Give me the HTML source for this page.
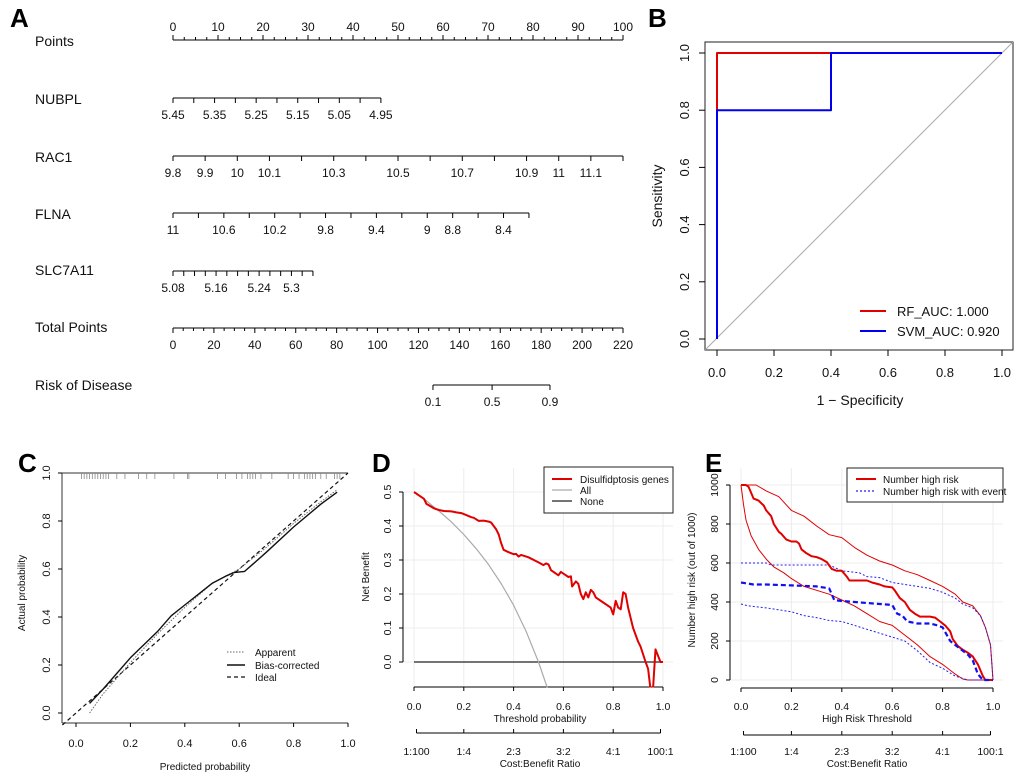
<!DOCTYPE html>
<html><head><meta charset="utf-8"><style>
html,body{margin:0;padding:0;background:#fff;}
svg{display:block;font-family:"Liberation Sans",Arial,sans-serif;}
</style></head><body>
<svg id="fig" width="1020" height="778" viewBox="0 0 1020 778" xmlns="http://www.w3.org/2000/svg"></svg>
<script>
// ---------- Panel A: nomogram data ----------
const nomoVars = ['NUBPL','RAC1','FLNA','SLC7A11'];
const nubplTicks = [5.45,5.40,5.35,5.30,5.25,5.20,5.15,5.10,5.05,5.00,4.95];
const nubplLabels = ['5.45','','5.35','','5.25','','5.15','','5.05','','4.95'];
const rac1Ticks = [9.8,9.9,10,10.1,10.2,10.3,10.4,10.5,10.6,10.7,10.8,10.9,11,11.1,11.2];
const rac1Labels = ['9.8','9.9','10','10.1','','10.3','','10.5','','10.7','','10.9','11','11.1',''];
const flnaTicks = [11,10.8,10.6,10.4,10.2,10,9.8,9.6,9.4,9.2,9,8.8,8.6,8.4,8.2];
const flnaLabels = ['11','','10.6','','10.2','','9.8','','9.4','','9','8.8','','8.4',''];
const slcTicks = [5.08,5.10,5.12,5.14,5.16,5.18,5.20,5.22,5.24,5.26,5.28,5.30,5.32,5.34];
const slcLabels = ['5.08','','','','5.16','','','','5.24','','','5.3','',''];
const varMaxPoints = [46.2, 100, 79.1, 31.1];
const pointsTicks = [0,10,20,30,40,50,60,70,80,90,100];
const totalTicks = [0,20,40,60,80,100,120,140,160,180,200,220];
const riskLabels = ['0.1','0.5','0.9'];
const riskTotals = [127.1, 156.0, 184.3];
// ---------- Panel B: ROC ----------
const rfFpr = [0,0,1];
const rfTpr = [0,1,1];
const svmFpr = [0,0,0.4,0.4,1];
const svmTpr = [0,0.8,0.8,1,1];
const rocTicks = [0,0.2,0.4,0.6,0.8,1.0];
// ---------- Panel C: calibration ----------
const calApparentX = [0.05,0.1,0.2,0.3,0.4,0.5,0.6,0.7,0.8,0.9,0.96];
const calApparentY = [0.0,0.08,0.21,0.33,0.44,0.54,0.60,0.69,0.79,0.88,0.93];
const calBiasX = [0.05,0.1,0.2,0.3,0.35,0.4,0.5,0.55,0.58,0.62,0.65,0.7,0.8,0.9,0.96];
const calBiasY = [0.04,0.1,0.23,0.34,0.405,0.45,0.54,0.57,0.585,0.59,0.62,0.67,0.775,0.87,0.92];
const calRug = [0.02,0.03,0.04,0.05,0.06,0.07,0.08,0.09,0.1,0.11,0.12,0.15,0.18,0.23,0.26,0.29,0.36,0.41,0.415,0.52,0.55,0.59,0.61,0.63,0.64,0.65,0.66,0.68,0.72,0.78,0.8,0.82,0.84,0.85,0.86,0.87,0.88,0.9,0.92,0.95,0.96,0.97];
const calTicks = [0,0.2,0.4,0.6,0.8,1.0];
// ---------- Panel D: DCA ----------
const dcaT = [0,0.02,0.04,0.05,0.08,0.1,0.12,0.15,0.17,0.19,0.21,0.23,0.24,0.26,0.28,0.3,0.31,0.32,0.33,0.34,0.35,0.36,0.38,0.4,0.41,0.42,0.43,0.46,0.5,0.52,0.53,0.54,0.55,0.57,0.58,0.59,0.61,0.62,0.63,0.635,0.65,0.66,0.67,0.68,0.69,0.7,0.71,0.72,0.73,0.76,0.79,0.8,0.81,0.82,0.83,0.84,0.85,0.86,0.88,0.9,0.91,0.93,0.94,0.95,0.96,0.97,0.99,1.0];
const dcaNB = [0.5,0.49,0.48,0.465,0.452,0.447,0.444,0.443,0.44,0.438,0.432,0.426,0.424,0.415,0.416,0.413,0.41,0.40,0.39,0.375,0.35,0.33,0.323,0.317,0.318,0.31,0.315,0.308,0.293,0.285,0.29,0.287,0.27,0.26,0.255,0.265,0.255,0.25,0.252,0.222,0.237,0.23,0.2,0.185,0.205,0.19,0.212,0.205,0.19,0.175,0.16,0.14,0.18,0.16,0.155,0.205,0.2,0.16,0.10,0.06,0.045,0.0,-0.02,-0.08,-0.08,0.037,0.0,0.0];
const allT = [0,0.05,0.1,0.15,0.2,0.25,0.3,0.35,0.4,0.45,0.5,0.535];
const allNB = [0.5,0.474,0.444,0.412,0.375,0.333,0.286,0.231,0.167,0.091,0.0,-0.075];
const dcaYTicks = [0,0.1,0.2,0.3,0.4,0.5];
const xTicks01 = [0,0.2,0.4,0.6,0.8,1.0];
const cbLabels = ['1:100','1:4','2:3','3:2','4:1','100:1'];
const cbPos = [0.01,0.2,0.4,0.6,0.8,0.99];
// ---------- Panel E: clinical impact ----------
const ciHighX = [0,0.02,0.03,0.05,0.07,0.09,0.1,0.12,0.13,0.15,0.16,0.18,0.2,0.22,0.23,0.24,0.26,0.28,0.3,0.32,0.34,0.36,0.38,0.4,0.42,0.43,0.46,0.5,0.52,0.55,0.57,0.6,0.61,0.63,0.65,0.67,0.69,0.71,0.75,0.77,0.79,0.81,0.83,0.84,0.86,0.88,0.9,0.92,0.94,0.96,0.97,1.0];
const ciHighY = [1000,1000,990,930,920,895,870,840,800,760,750,720,710,710,700,670,650,635,630,620,605,570,560,560,530,510,510,510,500,490,480,475,460,420,400,360,340,325,325,320,300,280,250,210,175,155,140,120,80,20,0,0];
const ciHighUpX = [0,0.06,0.1,0.15,0.2,0.25,0.3,0.35,0.4,0.45,0.5,0.55,0.6,0.65,0.7,0.75,0.8,0.85,0.88,0.92,0.95,0.97,0.99,1.0];
const ciHighUpY = [1000,1000,970,940,870,840,790,745,730,680,640,610,590,560,540,510,480,440,400,380,330,270,180,0];
const ciHighLoX = [0,0.01,0.02,0.04,0.07,0.1,0.13,0.17,0.2,0.25,0.3,0.35,0.4,0.45,0.5,0.55,0.6,0.65,0.7,0.75,0.8,0.85,0.88,0.9,1.0];
const ciHighLoY = [1000,900,820,740,670,620,580,550,520,480,460,440,410,380,340,300,280,230,180,120,80,30,5,0,0];
const ciEvX = [0,0.05,0.1,0.2,0.3,0.35,0.37,0.4,0.45,0.5,0.55,0.6,0.62,0.64,0.66,0.7,0.75,0.78,0.8,0.83,0.86,0.88,0.9,0.92,0.94,0.96,1.0];
const ciEvY = [500,490,490,485,480,470,410,405,400,395,390,385,340,330,300,290,290,280,270,200,170,150,130,100,30,0,0];
const ciEvUpX = [0,0.1,0.12,0.35,0.4,0.47,0.5,0.55,0.6,0.7,0.75,0.8,0.85,0.88,0.92,0.95,0.97,0.99,1.0];
const ciEvUpY = [600,600,590,590,560,550,530,525,500,480,470,450,420,390,370,330,270,180,0];
const ciEvLoX = [0,0.03,0.1,0.15,0.2,0.25,0.3,0.35,0.4,0.45,0.5,0.55,0.6,0.65,0.7,0.75,0.8,0.85,0.9,1.0];
const ciEvLoY = [390,380,370,360,350,330,320,305,300,280,260,240,220,200,150,90,60,20,0,0];
const ciYTicks = [0,200,400,600,800,1000];

const svg = document.getElementById('fig');
const NS = 'http://www.w3.org/2000/svg';
function add(tag, attrs, name, parent){
  const el = document.createElementNS(NS, tag);
  for (const k in attrs) el.setAttribute(k, attrs[k]);
  
  
  (parent||svg).appendChild(el);
  return el;
}
function ln(x1,y1,x2,y2,name,stroke,sw,dash){
  const a={x1:x1,y1:y1,x2:x2,y2:y2,stroke:stroke||'#000','stroke-width':sw||1};
  if(dash) a['stroke-dasharray']=dash;
  return add('line',a,name);
}
function tx(x,y,s,name,size,anchor,rot,weight,fill){
  const a={x:x,y:y,'font-size':size||12,'text-anchor':anchor||'middle',fill:fill||'#111'};
  if(rot) a.transform='rotate(-90 '+x+' '+y+')';
  if(weight) a['font-weight']=weight;
  const t=add('text',a,name); t.textContent=s; return t;
}
function pl(xs,ys,fx,fy,name,stroke,sw,dash,clip){
  const pts=xs.map((v,i)=>fx(v).toFixed(1)+','+fy(ys[i]).toFixed(1)).join(' ');
  const a={points:pts,fill:'none',stroke:stroke,'stroke-width':sw,'stroke-linejoin':'round'};
  if(dash) a['stroke-dasharray']=dash;
  if(clip) a['clip-path']='url(#'+clip+')';
  return add('polyline',a,name);
}
const defs = add('defs',{},'defs');
function clipRect(id,x,y,w,h){const c=add('clipPath',{id:id},'clip-'+id,defs);add('rect',{x:x,y:y,width:w,height:h},'clip-rect',c);}

// ================= Panel A =================
tx(10,27,'A','panel-label-a',26,'start',false,'bold','#000');
const PX = p => 173 + p*4.5;
const TX = t => 173 + t*450/220;
const rowY = [98,156,213,271];
const rowLab = [['Points',41],['NUBPL',99],['RAC1',157],['FLNA',214],['SLC7A11',270],['Total Points',327],['Risk of Disease',385]];
rowLab.forEach(r=>tx(35,r[1]+5,r[0],'row-label-'+r[0].toLowerCase().replace(/ /g,'-'),14,'start'));
ln(PX(0),40,PX(100),40,'points-axis');
for(let p=0;p<=100;p+=2.5){ const maj=p%10===0; ln(PX(p),40,PX(p),maj?35:37,'points-tick'); }
pointsTicks.forEach(p=>tx(PX(p),31,String(p),'points-tick-label',12));
const varTicks=[nubplTicks,rac1Ticks,flnaTicks,slcTicks];
const varLabels=[nubplLabels,rac1Labels,flnaLabels,slcLabels];
nomoVars.forEach((v,i)=>{
  const tk=varTicks[i], lb=varLabels[i], y=rowY[i], n=tk.length;
  const first=tk[0], last=tk[n-1];
  const xp = val => PX((val-first)/(last-first)*varMaxPoints[i]);
  ln(xp(first),y,xp(last),y,v.toLowerCase()+'-axis');
  tk.forEach((t,j)=>{ ln(xp(t),y,xp(t),y+5,v.toLowerCase()+'-tick');
    if(lb[j]) tx(xp(t),y+21,lb[j],v.toLowerCase()+'-tick-label',12); });
});
ln(TX(0),328,TX(220),328,'total-points-axis');
for(let t=0;t<=220;t+=5){ ln(TX(t),328,TX(t),t%20===0?333:331,'total-points-tick'); }
totalTicks.forEach(t=>tx(TX(t),349,String(t),'total-points-tick-label',12));
ln(TX(riskTotals[0]),385,TX(riskTotals[riskTotals.length-1]),385,'risk-axis');
riskLabels.forEach((l,i)=>{ ln(TX(riskTotals[i]),385,TX(riskTotals[i]),390,'risk-tick'); tx(TX(riskTotals[i]),406,l,'risk-tick-label',12); });

// ================= Panel B =================
tx(648,27,'B','panel-label-b',26,'start',false,'bold','#000');
const bx = v => 717 + v*285, by = v => 339 - v*286;
add('rect',{x:705,y:42,width:308,height:308,fill:'none',stroke:'#222','stroke-width':1},'roc-plot-box');
clipRect('cb',705,42,308,308);
ln(705,350,1013,42,'roc-diagonal','#aaa',1).setAttribute('clip-path','url(#cb)');
rocTicks.forEach(t=>{ ln(bx(t),350,bx(t),356,'roc-x-tick'); tx(bx(t),377,t.toFixed(1),'roc-x-tick-label',13);
  ln(699,by(t),705,by(t),'roc-y-tick'); tx(689,by(t),t.toFixed(1),'roc-y-tick-label',13,'middle',true); });
tx(860,405,'1 \u2212 Specificity','roc-x-title',14);
tx(662,196,'Sensitivity','roc-y-title',14,'middle',true);
pl(rfFpr,rfTpr,bx,by,'rf-roc-curve','#e00000',2);
pl(svmFpr,svmTpr,bx,by,'svm-roc-curve','#0000ee',2);
ln(860,311,886,311,'legend-rf-line','#e00000',2); tx(897,316,'RF_AUC: 1.000','legend-rf-text',13,'start');
ln(860,331,886,331,'legend-svm-line','#0000ee',2); tx(897,336,'SVM_AUC: 0.920','legend-svm-text',13,'start');

// ================= Panel C =================
tx(18,472,'C','panel-label-c',26,'start',false,'bold','#000');
const cx = v => 76 + v*272, cy = v => 713 - v*240;
ln(62,473,348,473,'cal-top-border','#333');
ln(62,473,62,723,'cal-y-axis','#333');
ln(62,723,348,723,'cal-x-axis','#333');
calTicks.forEach(t=>{ ln(cx(t),723,cx(t),727,'cal-x-tick'); tx(cx(t),747,t.toFixed(1),'cal-x-tick-label',11);
  ln(58,cy(t),62,cy(t),'cal-y-tick'); tx(50,cy(t),t.toFixed(1),'cal-y-tick-label',11,'middle',true); });
tx(205,770,'Predicted probability','cal-x-title',10);
tx(25,593,'Actual probability','cal-y-title',10,'middle',true);
calRug.forEach(r=>ln(cx(r),473,cx(r),479,'cal-rug-tick','#888',0.8));
ln(cx(-0.05),cy(-0.05),cx(1.0),cy(1.0),'cal-ideal-line','#111',1.2,'4,3');
pl(calApparentX,calApparentY,cx,cy,'cal-apparent-line','#666',1,'1.5,1.5');
pl(calBiasX,calBiasY,cx,cy,'cal-bias-corrected-line','#111',1.4);
ln(227,652,245,652,'legend-apparent-line','#666',1,'1.5,1.5'); tx(255,656,'Apparent','legend-apparent-text',10,'start');
ln(227,665,245,665,'legend-bias-line','#111',1.4); tx(255,669,'Bias-corrected','legend-bias-text',10,'start');
ln(227,677,245,677,'legend-ideal-line','#111',1.2,'4,3'); tx(255,681,'Ideal','legend-ideal-text',10,'start');

// ================= Panel D =================
tx(372,472,'D','panel-label-d',26,'start',false,'bold','#000');
const dx = v => 414 + v*249, dy = v => 662 - v*340;
clipRect('cd',403,468,270,219.5);
xTicks01.forEach(t=>ln(dx(t),468,dx(t),687,'dca-grid-v','#ececec',1));
dcaYTicks.forEach(t=>ln(403,dy(t),673,dy(t),'dca-grid-h','#ececec',1));
ln(dx(0),687,dx(1),687,'dca-x-axis');
xTicks01.forEach(t=>{ ln(dx(t),687,dx(t),691,'dca-x-tick'); tx(dx(t),710,t.toFixed(1),'dca-x-tick-label',10.5); });
ln(403,dy(0),403,dy(0.5),'dca-y-axis');
dcaYTicks.forEach(t=>{ ln(399,dy(t),403,dy(t),'dca-y-tick'); tx(391,dy(t),t.toFixed(1),'dca-y-tick-label',10.5,'middle',true); });
tx(540,722,'Threshold probability','dca-x-title',10);
tx(369,577,'Net Benefit','dca-y-title',10,'middle',true);
ln(dx(cbPos[0]),733,dx(cbPos[5]),733,'dca-cost-axis');
cbLabels.forEach((l,i)=>{ ln(dx(cbPos[i]),733,dx(cbPos[i]),729,'dca-cost-tick'); tx(dx(cbPos[i]),755,l,'dca-cost-label',10.5); });
tx(540,767,'Cost:Benefit Ratio','dca-cost-title',10);
ln(dx(0),dy(0),dx(1),dy(0),'dca-none-line','#222',1.2);
pl(allT,allNB,dx,dy,'dca-all-line','#aaa',1.2,null,'cd');
pl(dcaT,dcaNB,dx,dy,'dca-model-line','#e00000',2,null,'cd');
add('rect',{x:544,y:467,width:129,height:46,fill:'#fff',stroke:'#222','stroke-width':1},'dca-legend-box');
ln(552,479,572,479,'legend-disulf-line','#e00000',2); tx(580,483,'Disulfidptosis genes','legend-disulf-text',10,'start');
ln(552,490,572,490,'legend-all-line','#aaa',1.2); tx(580,494,'All','legend-all-text',10,'start');
ln(552,501,572,501,'legend-none-line','#222',1.2); tx(580,505,'None','legend-none-text',10,'start');

// ================= Panel E =================
tx(705,472,'E','panel-label-e',26,'start',false,'bold','#000');
const ex = v => 741 + v*252, ey = v => 680 - v*0.195;
xTicks01.forEach(t=>ln(ex(t),468,ex(t),680,'ci-grid-v','#ececec',1));
ciYTicks.forEach(t=>ln(730,ey(t),1003,ey(t),'ci-grid-h','#ececec',1));
ln(ex(0),688,ex(1),688,'ci-x-axis');
xTicks01.forEach(t=>{ ln(ex(t),688,ex(t),692,'ci-x-tick'); tx(ex(t),710,t.toFixed(1),'ci-x-tick-label',10.5); });
ln(730,ey(0),730,ey(1000),'ci-y-axis');
ciYTicks.forEach(t=>{ ln(726,ey(t),730,ey(t),'ci-y-tick'); tx(718,ey(t),String(t),'ci-y-tick-label',10.5,'middle',true); });
tx(867,722,'High Risk Threshold','ci-x-title',10);
tx(695,580,'Number high risk (out of 1000)','ci-y-title',10,'middle',true);
ln(ex(cbPos[0]),735,ex(cbPos[5]),735,'ci-cost-axis');
cbLabels.forEach((l,i)=>{ ln(ex(cbPos[i]),735,ex(cbPos[i]),731,'ci-cost-tick'); tx(ex(cbPos[i]),755,l,'ci-cost-label',10.5); });
tx(867,767,'Cost:Benefit Ratio','ci-cost-title',10);
pl(ciHighUpX,ciHighUpY,ex,ey,'ci-high-risk-upper','#e00000',1);
pl(ciHighLoX,ciHighLoY,ex,ey,'ci-high-risk-lower','#e00000',1);
pl(ciEvUpX,ciEvUpY,ex,ey,'ci-event-upper','#2020ee',1,'2,2');
pl(ciEvLoX,ciEvLoY,ex,ey,'ci-event-lower','#2020ee',1,'2,2');
pl(ciHighX,ciHighY,ex,ey,'ci-high-risk-line','#e00000',2);
pl(ciEvX,ciEvY,ex,ey,'ci-event-line','#1010ee',2.2,'5,3');
add('rect',{x:847,y:468,width:156,height:34,fill:'#fff',stroke:'#222','stroke-width':1},'ci-legend-box');
ln(856,479,876,479,'legend-high-risk-line','#e00000',2); tx(883,483,'Number high risk','legend-high-risk-text',10,'start');
ln(856,491,876,491,'legend-event-line','#2020ee',1.2,'2,2'); tx(883,495,'Number high risk with event','legend-event-text',10,'start');
</script>
</body></html>
